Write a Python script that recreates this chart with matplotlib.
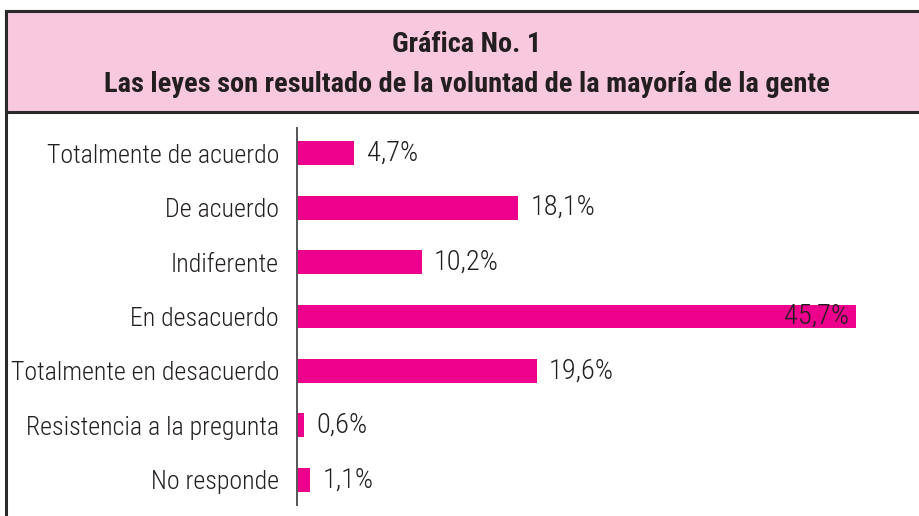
import matplotlib
matplotlib.use("Agg")
import matplotlib.pyplot as plt
from matplotlib.patches import Rectangle
from matplotlib import font_manager

categories = ["Totalmente de acuerdo", "De acuerdo", "Indiferente", "En desacuerdo",
              "Totalmente en desacuerdo", "Resistencia a la pregunta", "No responde"]
values = [4.7, 18.1, 10.2, 45.7, 19.6, 0.6, 1.1]
value_labels = ["4,7%", "18,1%", "10,2%", "45,7%", "19,6%", "0,6%", "1,1%"]
title_lines = ["Gráfica No. 1", "Las leyes son resultado de la voluntad de la mayoría de la gente"]

# pick a narrow font if one is there
installed = {f.name for f in font_manager.fontManager.ttflist}
font = "DejaVu Sans"
for name in ["Roboto Condensed", "Liberation Sans Narrow", "DejaVu Sans Condensed"]:
    if name in installed:
        font = name
        break
plt.rcParams['font.family'] = [font, 'DejaVu Sans']

W, H = 920, 516
fig = plt.figure(figsize=(W / 100, H / 100), dpi=100)
fig.patch.set_facecolor("white")

BAR = "#ec008c"
PINK = "#f8c9de"
TEXT = "#231f20"


def px(x, y):
    return x / W, 1 - y / H


# outer box and pink header band
x0, y0 = px(6, 11)
fig.add_artist(Rectangle((x0, 0 - 0.05), 1.1, y0 + 0.05, transform=fig.transFigure,
                         facecolor="white", edgecolor="#2a2a2a", linewidth=2.2, zorder=0))
x1, y1 = px(6, 112)
fig.add_artist(Rectangle((x1, y1), 1.1, y0 - y1, transform=fig.transFigure,
                         facecolor=PINK, edgecolor="#2a2a2a", linewidth=2.2, zorder=1))

fig.text(*px(467, 45), title_lines[0], ha="center", va="center", fontsize=20.4,
         fontweight="bold", color=TEXT)
fig.text(*px(467, 85), title_lines[1], ha="center", va="center", fontsize=20.4,
         fontweight="bold", color=TEXT)

# bar area
left, right, top, bottom = 297, 920, 128, 505
ax = fig.add_axes([left / W, 1 - bottom / H, (right - left) / W, (bottom - top) / H])
ax.set_facecolor("none")
ypos = list(range(len(categories)))
ax.barh(ypos, values, height=0.44, color=BAR, zorder=2)
ax.set_xlim(0, (right - left) / 12.23)
ax.set_ylim(len(categories) - 0.54, -0.46)

for i, (v, lab) in enumerate(zip(values, value_labels)):
    if v > 40:
        ax.text(v - 0.6, i, lab, ha="right", va="center", fontsize=20.5,
                fontweight="light", color=TEXT)
    else:
        ax.text(v + 1.0, i, lab, ha="left", va="center", fontsize=20.5,
                fontweight="light", color=TEXT)

ax.set_yticks(ypos)
ax.set_yticklabels(categories, fontsize=18.6, fontweight="light", color=TEXT)
ax.tick_params(axis="y", length=0, pad=13)
ax.set_xticks([])
for s in ["top", "right", "bottom"]:
    ax.spines[s].set_visible(False)
ax.spines["left"].set_color("#555555")
ax.spines["left"].set_linewidth(1.4)

fig.savefig("out.png", dpi=100)
